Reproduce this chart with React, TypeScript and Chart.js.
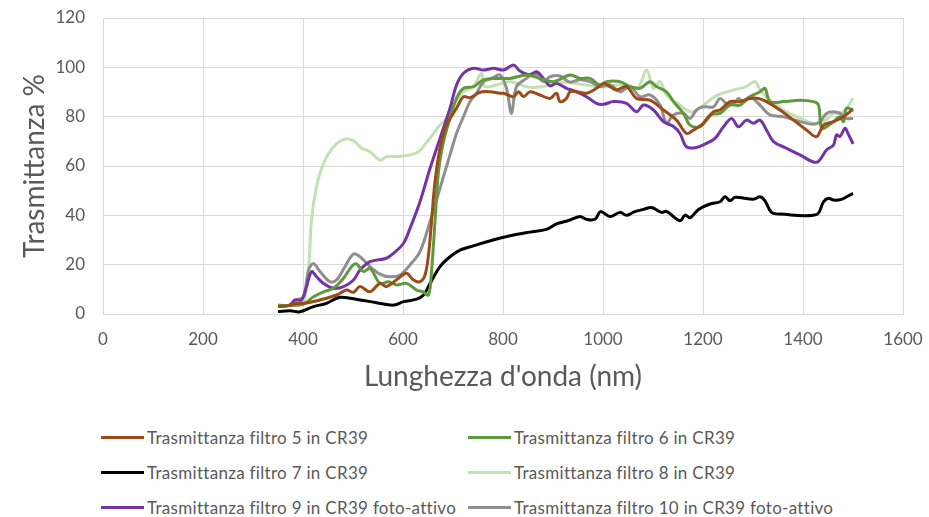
import React, { useEffect, useRef } from "react";
import { Chart, registerables } from "chart.js";

Chart.register(...registerables);

// Wavelength (nm) and transmittance (%) for each filter
const wl5 = [350, 374, 387, 407, 434, 467, 487, 501, 514, 534, 554, 567, 591, 607, 621, 634, 644, 651, 657, 664, 674, 687, 707, 721, 734, 754, 774, 794, 801, 821, 831, 841, 854, 874, 894, 907, 914, 927, 934, 947, 967, 987, 1001, 1014, 1027, 1047, 1067, 1094, 1121, 1147, 1167, 1181, 1201, 1221, 1234, 1254, 1274, 1294, 1311, 1327, 1354, 1381, 1407, 1427, 1441, 1461, 1481, 1500];
const t5 = [3, 3.5, 4.3, 4.5, 5.7, 7.7, 9.7, 8.8, 11.1, 9.0, 12.4, 11.1, 14.5, 16.5, 13.8, 13.1, 15.8, 23.9, 37.4, 53.6, 67.2, 76.6, 83.4, 88.1, 87.7, 89.9, 90.1, 89.5, 89.5, 88.1, 90.1, 88.1, 90.1, 88.8, 87.4, 89.5, 86.1, 87.4, 90.1, 90.1, 89.5, 91.5, 93.5, 92.2, 90.8, 92.2, 87.4, 86.7, 82.7, 78.6, 73.2, 74.6, 77.3, 82, 82.7, 86.1, 86.1, 87.4, 87.4, 86.1, 82.7, 78.6, 74.6, 71.9, 76.6, 78, 80, 83];

const wl6 = [350, 380, 401, 421, 441, 461, 481, 497, 507, 521, 534, 554, 571, 587, 607, 627, 640, 651, 657, 664, 671, 681, 694, 707, 721, 741, 761, 787, 814, 847, 874, 901, 934, 954, 974, 994, 1007, 1034, 1054, 1074, 1094, 1107, 1127, 1141, 1161, 1174, 1194, 1214, 1234, 1254, 1274, 1294, 1314, 1324, 1334, 1361, 1394, 1421, 1431, 1437, 1447, 1461, 1474, 1481, 1487, 1500];
const t6 = [3.5, 3.5, 4, 7, 9, 10.4, 14.5, 19.2, 20.3, 17.2, 18.5, 12.4, 13.1, 11.8, 12.4, 9.7, 9, 7.7, 17.2, 37.4, 57.7, 69.9, 79.3, 87.4, 91.5, 92.2, 94.9, 95.5, 95.5, 96.9, 95.5, 94.2, 96.9, 95.5, 95.5, 92.8, 94.2, 94.2, 92.2, 91.5, 94.2, 92.2, 90.1, 86.1, 81.3, 76.6, 75.9, 80.7, 81.3, 84.7, 84.7, 88.1, 90.1, 91.5, 86.1, 86.1, 86.7, 86.1, 84.7, 75.3, 75.9, 78, 80, 78, 83.4, 82.7];

const wl7 = [350, 374, 394, 421, 447, 474, 514, 547, 581, 601, 627, 641, 654, 674, 694, 714, 747, 780, 821, 854, 887, 907, 930, 954, 967, 984, 995, 1014, 1034, 1047, 1061, 1081, 1097, 1117, 1127, 1154, 1164, 1174, 1191, 1214, 1234, 1244, 1254, 1264, 1301, 1314, 1324, 1337, 1354, 1427, 1441, 1451, 1461, 1477, 1500];
const t7 = [1, 1.3, 0.9, 3, 4.3, 6.8, 5.7, 4.6, 3.6, 5, 6, 7.7, 12.4, 19.2, 23.2, 25.9, 28, 30, 32, 33.2, 34.3, 36.5, 37.8, 39.5, 38.4, 38.4, 41.5, 39.5, 41.2, 40, 41.3, 42.4, 43.2, 41.2, 41.6, 37.8, 40.1, 39, 42.4, 44.6, 45.5, 47.5, 45.9, 47.3, 46.5, 47.5, 45.9, 41.2, 40.5, 40.3, 45.5, 46.9, 46.2, 46.5, 48.9];

const wl8 = [350, 380, 401, 411, 417, 427, 441, 461, 484, 501, 517, 534, 554, 567, 587, 614, 631, 647, 674, 687, 701, 721, 741, 757, 764, 790, 814, 850, 881, 920, 960, 1000, 1040, 1070, 1087, 1101, 1114, 1127, 1154, 1167, 1181, 1201, 1227, 1261, 1287, 1304, 1314, 1334, 1367, 1394, 1421, 1441, 1461, 1481, 1500];
const t8 = [3.5, 3.6, 5, 17.8, 38, 51.6, 61, 67.8, 70.9, 70.3, 67.2, 65.8, 62.4, 63.8, 63.8, 64.5, 65.8, 69.5, 76.6, 79.3, 84.7, 90.1, 92.2, 97.6, 92.2, 93, 94.2, 92, 92.2, 94, 93, 92, 93, 92, 98.9, 91.5, 94.2, 88.8, 84.7, 82.7, 82, 84.7, 88.5, 90.8, 92.2, 94.2, 90.8, 86.7, 82, 79.3, 77.3, 78, 81.3, 82, 87.4];

const wl9 = [350, 374, 384, 397, 407, 417, 427, 441, 461, 481, 501, 514, 534, 567, 581, 601, 614, 634, 654, 674, 694, 707, 721, 741, 761, 781, 801, 821, 834, 854, 867, 881, 894, 907, 927, 947, 967, 987, 1001, 1021, 1047, 1067, 1081, 1101, 1121, 1141, 1154, 1167, 1187, 1207, 1224, 1241, 1257, 1271, 1287, 1301, 1314, 1327, 1341, 1367, 1394, 1427, 1447, 1461, 1467, 1474, 1484, 1490, 1500];
const t9 = [3.2, 3.6, 5.7, 5.7, 11.1, 17.2, 15.1, 12.4, 10.4, 11.1, 13.8, 17.8, 21.2, 22.6, 24.6, 28.7, 34.7, 45.5, 59, 71.2, 83.4, 92.8, 97.6, 99.6, 98.9, 99.6, 98.9, 100.9, 98.5, 97, 98.2, 95.5, 92.5, 93.5, 91.5, 90.1, 88.1, 85.4, 85, 86.1, 85.4, 82, 84.7, 82.7, 78, 76, 73.2, 67.8, 67.5, 69.2, 71.2, 75.9, 79.3, 75.9, 78.6, 77.3, 78.6, 74.6, 69.9, 67.2, 64.5, 61.5, 66.5, 68.5, 72.6, 72, 75.3, 73.2, 69];

const wl10 = [350, 367, 387, 401, 411, 421, 434, 454, 467, 484, 501, 514, 534, 554, 574, 594, 614, 634, 654, 674, 694, 707, 721, 734, 747, 761, 777, 794, 807, 817, 827, 847, 861, 881, 894, 914, 934, 954, 974, 994, 1014, 1034, 1054, 1074, 1094, 1114, 1127, 1141, 1161, 1174, 1187, 1201, 1221, 1234, 1247, 1261, 1271, 1281, 1294, 1307, 1317, 1334, 1361, 1394, 1421, 1434, 1447, 1461, 1474, 1487, 1500];
const t10 = [3.5, 3.2, 5.7, 7, 17.8, 20.5, 17.2, 13.1, 13.8, 19.2, 24.3, 23.2, 19.2, 16.2, 15.1, 15.8, 19.9, 25.3, 37.4, 51, 64.5, 73.2, 80, 86.1, 89.5, 94.2, 95.5, 96.9, 91.5, 81.3, 92.2, 95.5, 97.6, 94.2, 96.2, 96.5, 94, 95, 94.2, 92.2, 93, 90.1, 92.2, 88.1, 88.8, 84.7, 77.3, 80.7, 81.3, 79.3, 82.7, 84, 84, 87.4, 85.4, 85.4, 87.4, 86.1, 88.1, 86.1, 84, 80.7, 80, 78, 76.9, 78, 81.3, 82, 81.3, 79.3, 79.3];

const seriesLabels = [
  "Trasmittanza filtro 5 in CR39",
  "Trasmittanza filtro 6 in CR39",
  "Trasmittanza filtro 7 in CR39",
  "Trasmittanza filtro 8 in CR39",
  "Trasmittanza filtro 9 in CR39 foto-attivo",
  "Trasmittanza filtro 10 in CR39 foto-attivo",
];
const seriesColors = ["#9c4a18", "#5e9a3c", "#000000", "#c3e1b1", "#7434a8", "#8f8f8f"];
const seriesX = [wl5, wl6, wl7, wl8, wl9, wl10];
const seriesY = [t5, t6, t7, t8, t9, t10];

const FONT = "Lato, 'Open Sans', sans-serif";
const TEXT = "#595959";
const GRID = "#d9d9d9";

function toPoints(xs: number[], ys: number[]) {
  return xs.map((x, i) => ({ x, y: ys[i] }));
}

export default function App() {
  const canvasRef = useRef<HTMLCanvasElement | null>(null);

  useEffect(() => {
    if (!canvasRef.current) return;
    // light green drawn first (underneath), others on top
    const drawOrder = [1, 2, 3, 6, 4, 5];
    const chart = new Chart(canvasRef.current, {
      type: "scatter",
      data: {
        datasets: seriesLabels.map((label, i) => ({
          label,
          data: toPoints(seriesX[i], seriesY[i]),
          showLine: true,
          borderColor: seriesColors[i],
          backgroundColor: seriesColors[i],
          borderWidth: 3,
          pointRadius: 0,
          tension: 0.35,
          order: drawOrder[i],
        })),
      },
      options: {
        responsive: false,
        animation: false,
        devicePixelRatio: 1,
        layout: { padding: { top: 18, right: 26, left: 0, bottom: 0 } },
        plugins: { legend: { display: false }, tooltip: { enabled: false } },
        scales: {
          x: {
            type: "linear",
            min: 0,
            max: 1600,
            ticks: {
              stepSize: 200,
              color: TEXT,
              font: { family: FONT, size: 17 },
              padding: 15,
              callback: (v: any) => String(v),
            },
            grid: { color: GRID, lineWidth: 1, drawTicks: false },
            border: { color: GRID },
            title: {
              display: true,
              text: "Lunghezza d'onda (nm)",
              color: TEXT,
              font: { family: FONT, size: 28 },
              padding: { top: 0, bottom: 6 },
            },
            afterFit: (scale: any) => {
              scale.height = 86;
              scale.paddingLeft = 0;
              scale.paddingRight = 0;
            },
          },
          y: {
            min: 0,
            max: 120,
            ticks: { stepSize: 20, color: TEXT, font: { family: FONT, size: 17 }, padding: 18 },
            grid: { color: GRID, lineWidth: 1, drawTicks: false },
            border: { color: GRID },
            title: {
              display: true,
              text: "Trasmittanza %",
              color: TEXT,
              font: { family: FONT, size: 28 },
              padding: { top: 18, bottom: 0 },
            },
            afterFit: (scale: any) => {
              scale.width = 103;
              scale.paddingTop = 0;
              scale.paddingBottom = 0;
            },
          },
        },
      },
    });
    return () => chart.destroy();
  }, []);

  const colLeft = [101, 468];
  const rowTop = [437, 472, 507];

  return (
    <div style={{ position: "absolute", left: 0, top: 0, width: 929, height: 517, background: "#fff" }}>
      <canvas ref={canvasRef} width={929} height={400} style={{ position: "absolute", left: 0, top: 0 }} />
      {seriesLabels.map((label, i) => {
        const col = i % 2;
        const row = Math.floor(i / 2);
        return (
          <div
            key={label}
            style={{
              position: "absolute",
              left: colLeft[col],
              top: rowTop[row] - 11,
              height: 22,
              display: "flex",
              alignItems: "center",
              fontFamily: FONT,
              fontSize: 17,
              letterSpacing: 0.3,
              color: TEXT,
              whiteSpace: "nowrap",
            }}
          >
            <span
              style={{
                display: "inline-block",
                width: 43,
                height: 3,
                background: seriesColors[i],
                marginRight: 3,
              }}
            />
            {label}
          </div>
        );
      })}
    </div>
  );
}
